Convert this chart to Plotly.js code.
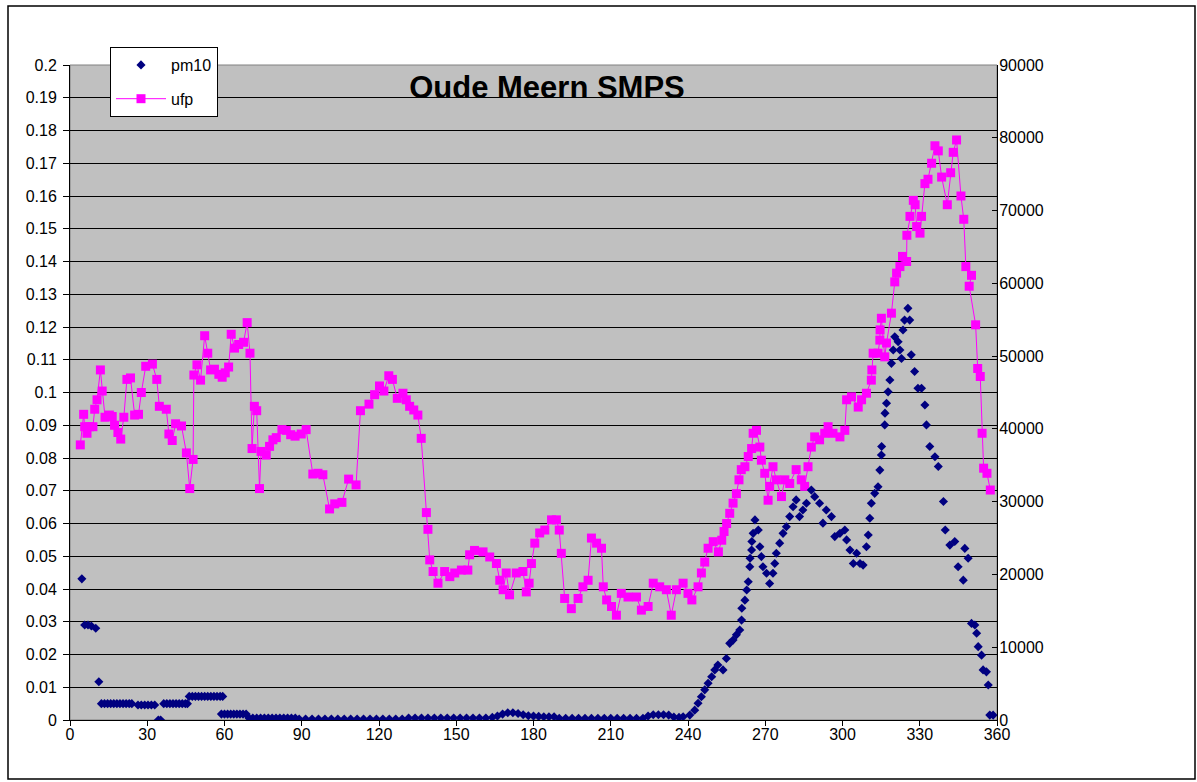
<!DOCTYPE html>
<html>
<head>
<meta charset="utf-8">
<script src="https://cdn.plot.ly/plotly-3.0.1.min.js"></script>
<style>html,body{margin:0;padding:0;background:#fff;}#chart{width:1197px;height:782px;}</style>
</head>
<body>
<div id="chart"></div>
<script>
// wind direction (degrees) and ultrafine particle counts
const ufpDir = [4.0,5.3,5.7,6.6,7.6,8.9,9.6,10.5,11.8,12.5,13.6,15.3,16.4,17.3,18.6,19.7,20.9,22.1,23.5,25.1,26.6,27.7,29.4,32.0,33.7,34.7,37.4,38.4,39.7,41.0,43.3,45.2,46.5,47.8,48.1,49.3,50.7,52.3,53.5,54.6,56.1,57.8,59.1,60.3,61.6,62.6,63.9,65.5,67.4,68.8,69.9,70.7,71.6,72.5,73.6,74.2,76.2,77.5,78.8,80.1,82.3,84.0,85.7,87.4,89.8,91.7,94.3,96.3,98.2,100.8,102.8,105.6,108.2,111.1,112.8,116.1,118.3,120.2,121.9,123.8,125.2,127.1,129.3,130.6,131.9,133.5,135.1,136.4,138.4,139.0,139.7,141.0,142.9,145.5,147.5,149.4,152.0,154.5,155.2,157.1,160.4,163.0,165.6,166.9,168.2,169.4,170.7,173.3,175.9,177.2,178.3,179.2,180.5,182.4,184.4,187.0,188.9,190.0,190.8,192.1,194.7,197.3,199.2,201.2,202.5,204.5,206.4,207.1,208.4,210.3,212.2,214.1,216.7,220.0,221.9,224.5,226.5,229.0,231.6,233.5,235.5,238.1,240.0,241.5,243.9,245.2,246.5,247.8,249.8,251.8,253.1,254.0,255.0,256.2,257.5,258.8,259.8,260.7,262.1,263.4,264.7,265.3,266.6,267.9,268.5,269.8,271.1,271.7,273.0,274.3,276.3,277.6,279.5,282.0,284.0,285.3,286.6,287.9,289.2,291.1,293.1,294.4,296.3,299.0,300.9,301.6,303.5,306.1,307.4,309.3,311.2,311.4,311.9,313.8,314.5,314.6,315.1,316.4,317.1,319.0,320.3,321.0,322.3,323.3,324.9,325.0,326.2,327.5,328.2,328.8,330.1,330.7,332.0,333.2,334.6,335.9,337.2,338.5,340.7,342.0,343.0,344.3,346.0,347.1,347.9,350.1,349.2,351.7,352.5,353.5,354.2,354.8,356.1,357.4];
const ufpVal = [37800,42000,40300,39400,40300,40300,42700,44000,48100,45200,41600,41900,41700,40500,39500,38600,41600,46800,47000,41900,42000,45000,48600,48900,46800,43100,42700,39300,38400,40700,40400,36700,31800,35800,47400,48800,46700,52800,50400,48100,48200,47500,47100,47700,48500,53000,51100,51600,51900,54600,50400,37300,43100,42500,31800,36900,36400,37600,38500,38800,39900,39800,39200,39000,39300,39900,33800,33900,33700,29000,29700,29900,33100,32300,42500,43400,44700,45900,45200,47300,46800,44200,44900,44000,43100,42600,41900,38700,28500,26200,22000,20400,18800,20400,19700,20200,20600,20600,22700,23300,23100,22400,21500,19200,17900,20200,17200,20200,20400,17600,18800,21500,24300,25700,26100,27500,27500,26100,22900,16700,15300,16700,18300,19200,25000,24300,23600,18300,16500,15600,14400,17400,16900,16900,15100,15600,18800,18300,17900,14400,17900,18800,17400,16500,18300,20200,21700,23600,24500,23100,24700,25900,27000,28400,29800,31100,33000,34400,34800,36200,37300,39400,39800,37500,35700,33900,30200,32100,34800,33000,30700,33000,32500,34400,33000,32100,34800,37500,38900,38500,39400,40300,39400,38900,39800,44000,44400,43000,44000,44900,46700,48100,50400,50400,52200,53600,55200,49900,51800,55900,60200,61400,62300,63700,63000,66600,69200,71400,70800,67800,66900,69200,73700,74300,76500,78900,78200,74600,70800,75200,78000,79700,72000,68800,62300,61100,59600,54300,48300,47200,39400,34600,33900,31600];

// wind direction (degrees) and PM10
const pmDir = [4.6,5.7,7.0,8.3,10.0,11.2,12.2,13.4,14.6,15.8,17.0,18.2,19.4,20.6,21.8,23.0,24.0,26.4,27.7,29.0,30.3,31.6,32.9,34.3,35.2,36.4,37.6,38.8,40.0,41.2,42.4,43.6,44.8,45.6,46.3,47.5,48.7,49.9,51.1,52.3,53.5,54.7,55.9,57.1,58.3,59.3,58.8,60.0,61.2,62.4,63.6,64.8,66.0,67.2,68.4,69.5,71,72.5,74,75.5,77,78.5,80,81.5,83,84.5,86,87.5,89,91.5,94,96.5,99,101.5,104,106.5,109,111.5,114,116.5,119,121.5,124,126.5,129,131.5,134,136.5,139,141.5,144,146.5,149,151.5,154,156.5,159,161.5,164,166,168,170,172,174,176,178,180,182,184,186,188,190,192.5,195,197.5,200,202.5,205,207.5,210,212.5,215,217.5,220,222.5,224.5,226.5,228.5,230.5,232.5,234.5,236.5,238.1,240.7,242.6,243.9,245.2,246.5,247.8,249.2,250.4,251.6,253.6,254.9,256.2,257.5,258.8,260.1,260.8,260.9,262.1,262.8,263.4,264.0,264.1,264.7,264.8,265.3,266.0,267.3,267.9,268.5,269.1,270.5,271.7,273.0,273.7,274.3,275.6,276.9,278.2,279.5,280.8,282.0,283.3,284.6,286.0,287.9,289.2,291.1,292.4,293.7,295.7,297.0,299.0,300.9,301.6,302.9,304.2,305.5,306.8,308.0,309.3,310.0,310.6,311.2,312.5,313.8,314.5,315.1,315.2,316.4,316.5,317.1,317.7,318.4,319.0,319.7,320.3,321.6,322.3,322.9,323.5,324.1,325.4,326.1,326.7,328.0,329.3,330.7,332.0,332.6,333.9,335.9,337.2,339.2,339.9,341.7,343.6,344.9,346.9,347.5,348.8,350.1,351.4,352.1,352.7,354.0,354.6,355.9,356.6,357.2,358.5];
const pmVal = [0.0431,0.029,0.029,0.0287,0.028,0.0117,0.005,0.005,0.005,0.005,0.005,0.005,0.005,0.005,0.005,0.005,0.005,0.0046,0.0046,0.0046,0.0046,0.0046,0.0046,0.0,0.0,0.005,0.005,0.005,0.005,0.005,0.005,0.005,0.005,0.005,0.0072,0.0072,0.0072,0.0072,0.0072,0.0072,0.0072,0.0072,0.0072,0.0072,0.0072,0.0072,0.0018,0.0018,0.0018,0.0018,0.0018,0.0018,0.0018,0.0018,0.0018,0.0006,0.0006,0.0006,0.0006,0.0006,0.0006,0.0006,0.0006,0.0006,0.0006,0.0006,0.0006,0.0006,0.0003,0.0003,0.0003,0.0003,0.0003,0.0003,0.0003,0.0003,0.0003,0.0003,0.0003,0.0003,0.0003,0.0003,0.0003,0.0003,0.0003,0.0006,0.0006,0.0006,0.0006,0.0006,0.0006,0.0006,0.0006,0.0006,0.0006,0.0006,0.0006,0.0006,0.0008,0.0012,0.0018,0.0022,0.0022,0.002,0.0016,0.0013,0.0012,0.0011,0.001,0.001,0.001,0.0005,0.0005,0.0005,0.0005,0.0005,0.0005,0.0005,0.0005,0.0005,0.0005,0.0005,0.0005,0.0005,0.0005,0.0012,0.0016,0.0016,0.0016,0.0015,0.0009,0.0008,0.001,0.0015,0.003,0.0051,0.0071,0.0092,0.0112,0.0132,0.0153,0.0168,0.0153,0.0188,0.0234,0.0244,0.026,0.0275,0.0305,0.0341,0.0366,0.0397,0.0422,0.0468,0.0494,0.0519,0.0545,0.057,0.0611,0.058,0.0529,0.0499,0.0468,0.0448,0.0417,0.0448,0.0478,0.0509,0.054,0.057,0.059,0.0621,0.0651,0.0672,0.0621,0.0641,0.0662,0.0702,0.0682,0.0662,0.0601,0.0641,0.0621,0.056,0.057,0.058,0.055,0.0519,0.0478,0.0509,0.0478,0.0473,0.0529,0.0565,0.0616,0.0662,0.0692,0.0712,0.0763,0.0809,0.0835,0.0901,0.0937,0.0967,0.1002,0.1038,0.1089,0.113,0.117,0.1155,0.113,0.1104,0.1191,0.1221,0.1257,0.1221,0.1115,0.1064,0.1013,0.1013,0.0962,0.0901,0.0835,0.0804,0.0774,0.0667,0.058,0.0534,0.0545,0.0468,0.0427,0.0524,0.0494,0.0295,0.029,0.0265,0.0224,0.0198,0.0153,0.0147,0.0107,0.0015,0.0015];

const leftTickVals = [0,0.01,0.02,0.03,0.04,0.05,0.06,0.07,0.08,0.09,0.1,0.11,0.12,0.13,0.14,0.15,0.16,0.17,0.18,0.19,0.2];
const leftTickText = ['0','0.01','0.02','0.03','0.04','0.05','0.06','0.07','0.08','0.09','0.1','0.11','0.12','0.13','0.14','0.15','0.16','0.17','0.18','0.19','0.2'];
const rightTickVals = [0,10000,20000,30000,40000,50000,60000,70000,80000,90000];
const rightTickText = ['0','10000','20000','30000','40000','50000','60000','70000','80000','90000'];

const FONT = 'Liberation Sans, Arial, sans-serif';

const traces = [
  {
    x: pmDir, y: pmVal, name: 'pm10', type: 'scatter', mode: 'markers',
    yaxis: 'y2', legendgroup: 'g1',
    marker: {symbol: 'diamond', size: 7, color: '#000080'}
  },
  {
    x: ufpDir, y: ufpVal, name: 'ufp', type: 'scatter', mode: 'lines+markers',
    yaxis: 'y', legendgroup: 'g2',
    line: {color: '#FF00FF', width: 1},
    marker: {symbol: 'square', size: 9, color: '#FF00FF'}
  }
];

const layout = {
  width: 1197, height: 782,
  margin: {l: 70, r: 200, t: 65, b: 62, pad: 0},
  paper_bgcolor: '#FFFFFF',
  plot_bgcolor: '#C0C0C0',
  font: {family: FONT, size: 16, color: '#000'},
  showlegend: true,
  title: {
    text: '<b>Oude Meern SMPS</b>',
    x: 547/1197, xanchor: 'center',
    y: 1 - 87/782, yanchor: 'middle',
    font: {family: FONT, size: 31, color: '#000'}
  },
  legend: {
    x: (110-70)/927, xanchor: 'left',
    y: (720-47)/655, yanchor: 'top',
    bgcolor: '#FFFFFF', bordercolor: '#000', borderwidth: 1,
    font: {family: FONT, size: 16, color: '#000'},
    tracegroupgap: 10, itemwidth: 50
  },
  xaxis: {
    range: [0, 360], tickmode: 'linear', tick0: 0, dtick: 30,
    ticks: 'outside', ticklen: 5, tickcolor: '#000', tickwidth: 1,
    showline: true, linecolor: '#000', linewidth: 1,
    showgrid: false, zeroline: false, ticklabelstandoff: -5,
    tickfont: {family: FONT, size: 16, color: '#000'}
  },
  yaxis: {
    range: [0, 90000], side: 'right',
    tickmode: 'array', tickvals: rightTickVals, ticktext: rightTickText,
    ticks: 'inside', ticklen: 5, tickcolor: '#000',
    showline: true, linecolor: '#000', linewidth: 1,
    showgrid: false, zeroline: false, ticklabelstandoff: -2,
    tickfont: {family: FONT, size: 16, color: '#000'}
  },
  yaxis2: {
    range: [0, 0.2], overlaying: 'y', side: 'left',
    tickmode: 'array', tickvals: leftTickVals, ticktext: leftTickText,
    ticks: 'outside', ticklen: 6, tickcolor: '#000',
    showline: true, linecolor: '#000', linewidth: 1,
    showgrid: true, gridcolor: '#000', gridwidth: 1, zeroline: false,
    ticklabelstandoff: 3,
    tickfont: {family: FONT, size: 16, color: '#000'}
  },
  shapes: [
    {type: 'rect', xref: 'paper', yref: 'paper', x0: 0, x1: 1, y0: 0, y1: 1,
     line: {color: '#808080', width: 1}, fillcolor: 'rgba(0,0,0,0)', layer: 'below'},
    {type: 'rect', xref: 'paper', yref: 'paper',
     x0: (8-70)/927, x1: (1195-70)/927, y0: (720-779)/655, y1: (720-6)/655,
     line: {color: '#000', width: 1.5}, fillcolor: 'rgba(0,0,0,0)', layer: 'above'}
  ]
};

Plotly.newPlot('chart', traces, layout, {displayModeBar: false, staticPlot: true});
</script>
</body>
</html>
